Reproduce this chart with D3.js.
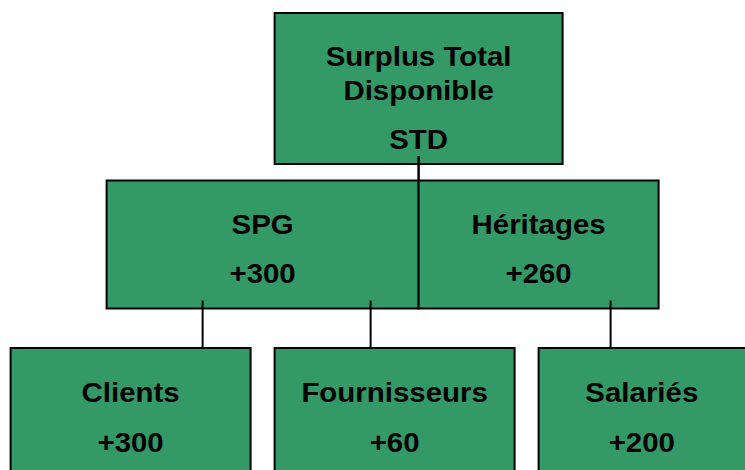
<!DOCTYPE html>
<html>
<head>
<meta charset="utf-8">
<script src="https://cdn.jsdelivr.net/npm/d3@7"></script>
<style>
  body { margin: 0; background: #fff; }
  svg { display: block; }
  .box { fill: #339966; stroke: #000; stroke-width: 2; }
  .link { stroke: #000; stroke-width: 2; }
  .lbl { font-family: Arial, "Liberation Sans", sans-serif; font-weight: bold; font-size: 27px; fill: #000; text-anchor: middle; }
</style>
</head>
<body>
<svg id="chart"></svg>
<script>
// tree data
var nodeIds     = ["STD", "SPG", "HER", "CLI", "FOU", "SAL"];
var nodeLabels  = [["Surplus Total", "Disponible"], ["SPG"], ["Héritages"], ["Clients"], ["Fournisseurs"], ["Salariés"]];
var nodeValues  = ["STD", "+300", "+260", "+300", "+60", "+200"];
var nodeParents = [null, "STD", "STD", "SPG", "SPG", "HER"];
var nodeLevels  = [0, 1, 1, 2, 2, 2];

// layout (grid columns of the original slide)
var colSpan  = [[22, 46], [8, 34], [34, 54], [0, 20], [22, 42], [44, 62]];
var linkCol  = [null, 34, 34, 16, 30, 50];
var rowHeight = [151, 128, 128];

var width = 745, height = 470;

var svg = d3.select("#chart")
    .attr("width", width)
    .attr("height", height);

var x = d3.scaleLinear().domain([0, 1]).range([10.6, 22.6]);   // one grid unit = 12px
var y = d3.scalePoint().domain([0, 1, 2]).range([13, 348]);

var nodes = nodeIds.map(function(id, i) {
    return {
        id: id,
        lines: nodeLabels[i],
        value: nodeValues[i],
        parent: nodeParents[i],
        level: nodeLevels[i],
        x0: x(colSpan[i][0]),
        x1: x(colSpan[i][1]),
        top: y(nodeLevels[i]),
        bottom: y(nodeLevels[i]) + rowHeight[nodeLevels[i]],
        linkX: linkCol[i] === null ? null : x(linkCol[i])
    };
});
var byId = {};
nodes.forEach(function(n) { byId[n.id] = n; });

// boxes
svg.selectAll("rect.box")
    .data(nodes)
    .enter()
    .append("rect")
    .attr("class", "box")
    .attr("x", function(d) { return d.x0; })
    .attr("y", function(d) { return d.top; })
    .attr("width", function(d) { return d.x1 - d.x0; })
    .attr("height", function(d) { return d.bottom - d.top; });

// connectors: start a bit inside the parent box, end on the child's top edge
svg.selectAll("line.link")
    .data(nodes.filter(function(d) { return d.parent; }))
    .enter()
    .append("line")
    .attr("class", "link")
    .attr("x1", function(d) { return d.linkX; })
    .attr("x2", function(d) { return d.linkX; })
    .attr("y1", function(d) { return byId[d.parent].bottom - 8; })
    .attr("y2", function(d) { return d.top; });

// labels (the slide's font is a little wider than Arial, so stretch horizontally)
var firstBase = [53, 53, 54];
var lineGap = 33.5, valueGap = 49.5, stretch = 1.09;

var g = svg.selectAll("g.node")
    .data(nodes)
    .enter()
    .append("g")
    .attr("class", "node");

g.each(function(d) {
    var cx = (d.x0 + Math.min(d.x1, width)) / 2;
    var base = d.top + firstBase[d.level];
    var sel = d3.select(this);
    var rows = d.lines.concat([d.value]);
    rows.forEach(function(t, k) {
        var ty = k < d.lines.length ? base + k * lineGap
                                    : base + (d.lines.length - 1) * lineGap + valueGap;
        sel.append("text")
            .attr("class", "lbl")
            .attr("transform", "translate(" + cx + "," + ty + ") scale(" + stretch + ",1)")
            .text(t);
    });
});
</script>
</body>
</html>
